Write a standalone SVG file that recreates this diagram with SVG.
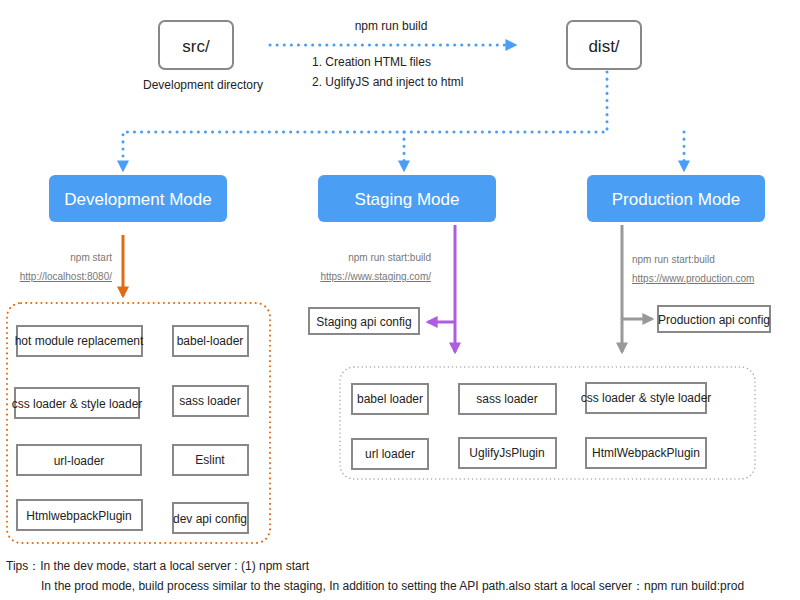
<svg xmlns="http://www.w3.org/2000/svg" width="800" height="600" viewBox="0 0 800 600">
<style>
text{font-family:"Liberation Sans",Arial,sans-serif;fill:#222}
.box{fill:#fff;stroke:#888;stroke-width:2}
.mode{fill:#4a9ff5}
.mt{fill:#fff;font-size:17px}
.bt{font-size:12px}
.sm{font-size:10px;fill:#777}
.lnk{font-size:10px;fill:#777;text-decoration:underline}
.blue{stroke:#4a9ff5;stroke-width:3;stroke-dasharray:0.1 7;stroke-linecap:round;fill:none}
</style>
<defs>
<marker id="ab" viewBox="0 0 10 10" refX="8" refY="5" markerWidth="4" markerHeight="4" orient="auto"><path d="M0,0L10,5L0,10z" fill="#4a9ff5"/></marker>
<marker id="ao" viewBox="0 0 10 10" refX="8" refY="5" markerWidth="4" markerHeight="4" orient="auto"><path d="M0,0L10,5L0,10z" fill="#e06b12"/></marker>
<marker id="ap" viewBox="0 0 10 10" refX="8" refY="5" markerWidth="4" markerHeight="4" orient="auto"><path d="M0,0L10,5L0,10z" fill="#b05ce0"/></marker>
<marker id="ag" viewBox="0 0 10 10" refX="8" refY="5" markerWidth="4" markerHeight="4" orient="auto"><path d="M0,0L10,5L0,10z" fill="#999"/></marker>
</defs>
<g id="connectors">
<path class="blue" d="M270,45H515" marker-end="url(#ab)"/>
<path class="blue" d="M607,72V132H123V170" marker-end="url(#ab)"/>
<path class="blue" d="M404,132V170" marker-end="url(#ab)"/>
<path class="blue" d="M684,132V170" marker-end="url(#ab)"/>
<path d="M123,235V296" stroke="#e06b12" stroke-width="3" marker-end="url(#ao)"/>
<path d="M455,225V352" stroke="#b05ce0" stroke-width="3" marker-end="url(#ap)"/>
<path d="M455,322H428" stroke="#b05ce0" stroke-width="3" marker-end="url(#ap)"/>
<path d="M622,225V352" stroke="#999" stroke-width="3" marker-end="url(#ag)"/>
<path d="M622,319H652" stroke="#999" stroke-width="3" marker-end="url(#ag)"/>
</g>
<g id="src"><rect x="159" y="21" width="74" height="48" rx="6" fill="#fff" stroke="#888" stroke-width="2"/><text x="196" y="52" text-anchor="middle" font-size="17">src/</text><text x="203" y="89" text-anchor="middle" font-size="12">Development directory</text></g>
<g id="dist"><rect x="567" y="21" width="74" height="48" rx="6" fill="#fff" stroke="#888" stroke-width="2"/><text x="604" y="52" text-anchor="middle" font-size="17">dist/</text></g>
<g id="build-label"><text x="391" y="30" text-anchor="middle" font-size="12">npm run build</text><text x="312" y="66" font-size="12">1. Creation HTML files</text><text x="312" y="86" font-size="12">2. UglifyJS and inject to html</text></g>
<g id="dev-mode"><rect class="mode" x="49" y="175" width="178" height="47" rx="6"/><text class="mt" x="138" y="205" text-anchor="middle">Development Mode</text></g>
<g id="stg-mode"><rect class="mode" x="318" y="175" width="178" height="47" rx="6"/><text class="mt" x="407" y="205" text-anchor="middle">Staging Mode</text></g>
<g id="prod-mode"><rect class="mode" x="587" y="175" width="178" height="47" rx="6"/><text class="mt" x="676" y="205" text-anchor="middle">Production Mode</text></g>
<g id="dev-labels"><text class="sm" x="112" y="261" text-anchor="end">npm start</text><text class="lnk" x="112" y="280" text-anchor="end">http://localhost:8080/</text></g>
<g id="stg-labels"><text class="sm" x="431" y="261" text-anchor="end">npm run start:build</text><text class="lnk" x="431" y="280" text-anchor="end">https://www.staging.com/</text></g>
<g id="prod-labels"><text class="sm" x="632" y="263">npm run start:build</text><text class="lnk" x="632" y="282">https://www.production.com</text></g>
<g id="dev-group"><rect x="7" y="303" width="263" height="240" rx="14" fill="none" stroke="#e06b12" stroke-width="2" stroke-dasharray="0.1 5" stroke-linecap="round"/>
<rect class="box" x="17" y="326" width="125" height="30"/><text class="bt" x="79" y="345" text-anchor="middle">hot module replacement</text>
<rect class="box" x="173" y="326" width="75" height="30"/><text class="bt" x="210" y="345" text-anchor="middle">babel-loader</text>
<rect class="box" x="15" y="388" width="124" height="30"/><text class="bt" x="77" y="408" text-anchor="middle">css loader &amp; style loader</text>
<rect class="box" x="173" y="386" width="75" height="30"/><text class="bt" x="210" y="405" text-anchor="middle">sass loader</text>
<rect class="box" x="17" y="445" width="124" height="30"/><text class="bt" x="79" y="465" text-anchor="middle">url-loader</text>
<rect class="box" x="173" y="445" width="75" height="30"/><text class="bt" x="210" y="464" text-anchor="middle">Eslint</text>
<rect class="box" x="17" y="500" width="125" height="30"/><text class="bt" x="79" y="520" text-anchor="middle">HtmlwebpackPlugin</text>
<rect class="box" x="173" y="503" width="75" height="30"/><text class="bt" x="210" y="523" text-anchor="middle">dev api config</text></g>
<g id="stg-config"><rect class="box" x="309" y="308" width="110" height="26"/><text class="bt" x="364" y="326" text-anchor="middle">Staging api config</text></g>
<g id="prod-config"><rect class="box" x="658" y="306" width="112" height="26"/><text class="bt" x="714" y="324" text-anchor="middle">Production api config</text></g>
<g id="build-group"><rect x="340" y="367" width="415" height="112" rx="14" fill="none" stroke="#aaa" stroke-width="1.5" stroke-dasharray="0.1 4" stroke-linecap="round"/>
<rect class="box" x="352" y="384" width="76" height="30"/><text class="bt" x="390" y="403" text-anchor="middle">babel loader</text>
<rect class="box" x="459" y="384" width="97" height="30"/><text class="bt" x="507" y="403" text-anchor="middle">sass  loader</text>
<rect class="box" x="586" y="383" width="120" height="30"/><text class="bt" x="646" y="402" text-anchor="middle">css loader &amp; style loader</text>
<rect class="box" x="352" y="439" width="76" height="30"/><text class="bt" x="390" y="458" text-anchor="middle">url loader</text>
<rect class="box" x="459" y="438" width="97" height="30"/><text class="bt" x="507" y="457" text-anchor="middle">UglifyJsPlugin</text>
<rect class="box" x="586" y="438" width="120" height="30"/><text class="bt" x="646" y="457" text-anchor="middle">HtmlWebpackPlugin</text></g>
<g id="tips"><text x="6" y="570" font-size="12">Tips：In the dev mode, start a local server : (1) npm start</text><text x="41" y="590" font-size="12">In the prod mode, build process similar to the staging, In addition to setting the API path.also start a local server：npm run build:prod</text></g>
</svg>
